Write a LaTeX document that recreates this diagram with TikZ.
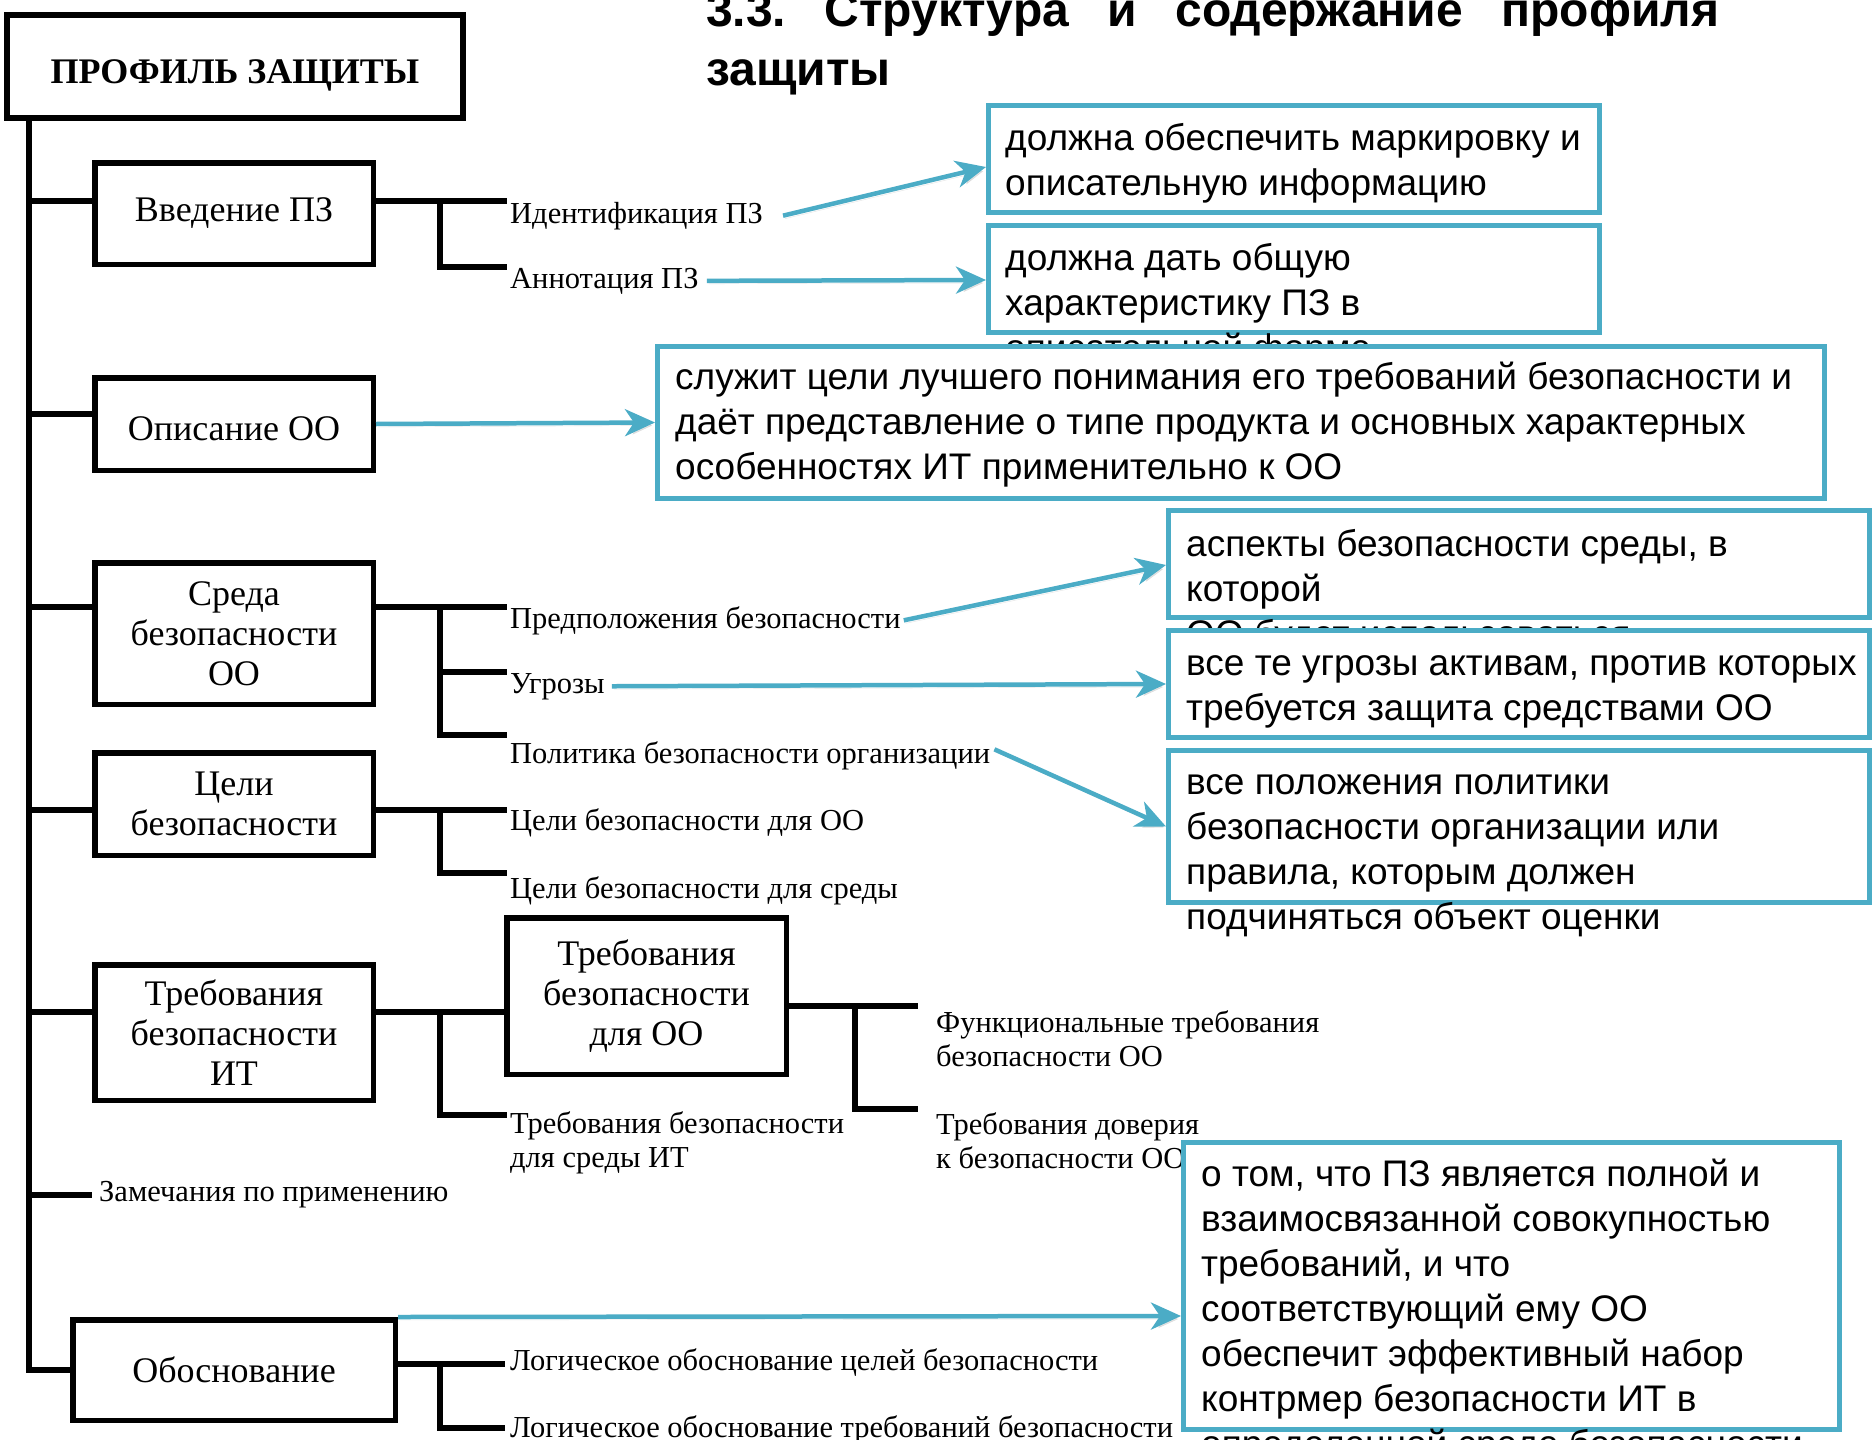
\documentclass[tikz,border=0pt]{standalone}
\usepackage{fontspec}
\setmainfont{Liberation Serif}
\newfontfamily\sansf{Liberation Sans}
\usetikzlibrary{arrows.meta}
\definecolor{tealc}{RGB}{75,172,198}
\begin{document}
\begin{tikzpicture}[x=1pt,y=-1pt,
  lbox/.style={draw=black, line width=5.5pt, inner sep=0pt, align=center,
    font=\fontsize{36}{40}\selectfont},
  conn/.style={draw=black, line width=5.5pt},
  lab/.style={inner sep=0pt, anchor=base west, align=left,
    font=\fontsize{30.5}{34}\selectfont},
  cbox/.style={draw=tealc, line width=5pt, fill=white, inner sep=0pt},
  ctext/.style={inner sep=0pt, anchor=base west, align=left,
    font=\sansf\fontsize{37}{45}\selectfont},
  arr/.style={draw=tealc, line width=4.5pt,
    -{Stealth[length=30pt,width=27pt,inset=9pt]},
    preaction={draw=black!30, opacity=0.35, transform canvas={xshift=2pt,yshift=-3pt}}},
]
\useasboundingbox (0,0) rectangle (1874,1440);
\fill[white] (0,0) rectangle (1874,1440);
\clip (0,0) rectangle (1874,1440);

% title (the base anchor of a multi-line node is its last line)
\node[inner sep=0pt, anchor=base west, font=\sansf\bfseries\fontsize{48}{58}\selectfont]
  (ttl1) at (706,27) {\hbox to 1013pt{3.3.\hfill Структура\hfill и\hfill содержание\hfill профиля}};
\node[inner sep=0pt, anchor=base west, font=\sansf\bfseries\fontsize{48}{58}\selectfont]
  (ttl2) at (706,85) {защиты};

% left structure boxes
\node[lbox, line width=6.5pt, minimum width=456pt, minimum height=103pt,
  text height=33pt, text depth=0pt, font=\bfseries\fontsize{36}{40}\selectfont]
  (title) at (235,66.5) {ПРОФИЛЬ ЗАЩИТЫ};
\node[lbox, minimum width=278.5pt, minimum height=101.5pt] (intro) at (234,213.5) {Введение ПЗ};
\node[lbox, minimum width=278.5pt, minimum height=92.5pt, text height=32pt, text depth=0pt] (desc) at (234,424) {Описание ОО};
\node[lbox, minimum width=278.5pt, minimum height=141.5pt] (env) at (234,633.5) {Среда\\безопасности\\ОО};
\node[lbox, minimum width=278.5pt, minimum height=102.5pt] (goals) at (234,804) {Цели\\безопасности};
\node[lbox, minimum width=278.5pt, minimum height=135.5pt] (reqit) at (234,1032.5) {Требования\\безопасности\\ИТ};
\node[lbox, minimum width=279.5pt, minimum height=156.5pt] (reqoo) at (646.5,996) {Требования\\безопасности\\для ОО};
\node[lbox, minimum width=322.5pt, minimum height=100.5pt] (obosn) at (234,1370) {Обоснование};

% coordinates
\coordinate (t0) at (29,0);
\coordinate (vx) at (440,0);
\coordinate (vx2) at (855,0);
\coordinate (bi) at (29,201);
\coordinate (bd) at (29,414);
\coordinate (be) at (29,607);
\coordinate (bg) at (29,810);
\coordinate (br) at (29,1012);
\coordinate (bz) at (29,1195);
\coordinate (bze) at (92,1195);
\coordinate (i1) at (507,201);
\coordinate (i2) at (507,267);
\coordinate (e1) at (507,607);
\coordinate (e2) at (507,672);
\coordinate (e3) at (507,735);
\coordinate (g1) at (507,810);
\coordinate (g2) at (507,873);
\coordinate (r1) at (440,1012);
\coordinate (r2) at (507,1115);
\coordinate (o1) at (918,1006);
\coordinate (o2) at (918,1109);
\coordinate (k1) at (505,1364);
\coordinate (k2) at (505,1428);

% trunk and branches
\draw[conn] (title.south -| t0) -- (t0 |- obosn.west) -- (obosn.west);
\draw[conn] (bi) -- (bi -| intro.west);
\draw[conn] (bd) -- (bd -| desc.west);
\draw[conn] (be) -- (be -| env.west);
\draw[conn] (bg) -- (bg -| goals.west);
\draw[conn] (br) -- (br -| reqit.west);
\draw[conn] (bz) -- (bze);

\draw[conn] (intro.east |- i1) -- (i1);
\draw[conn] (vx |- i1) |- (i2);
\draw[conn] (env.east |- e1) -- (e1);
\draw[conn] (vx |- e1) |- (e3);
\draw[conn] (vx |- e2) -- (e2);
\draw[conn] (goals.east |- g1) -- (g1);
\draw[conn] (vx |- g1) |- (g2);
\draw[conn] (reqit.east |- r1) -- (reqoo.west |- r1);
\draw[conn] (r1) |- (r2);
\draw[conn] (reqoo.east |- o1) -- (o1);
\draw[conn] (vx2 |- o1) |- (o2);
\draw[conn] (obosn.east |- k1) -- (k1);
\draw[conn] (vx |- k1) |- (k2);

% labels
\node[lab] (lid) at (510,223) {Идентификация ПЗ};
\node[lab] (lann) at (510,288) {Аннотация ПЗ};
\node[lab] (lpred) at (510,628) {Предположения безопасности};
\node[lab] (lthr) at (510,693) {Угрозы};
\node[lab] (lpol) at (510,763) {Политика безопасности организации};
\node[lab] (lg1) at (510,830) {Цели безопасности для ОО};
\node[lab] (lg2) at (510,898) {Цели безопасности для среды};
\node[lab] (lrenv) at (510,1167) {Требования безопасности\\для среды ИТ};
\node[lab] (lfun) at (936,1066) {Функциональные требования\\безопасности ОО};
\node[lab] (ltrust) at (936,1168) {Требования доверия\\к безопасности ОО};
\node[lab] (lzam) at (99,1201) {Замечания по применению};
\node[lab] (llog1) at (510,1370) {Логическое обоснование целей безопасности};
\node[lab] (llog2) at (510,1437) {Логическое обоснование требований безопасности};

% callout boxes (text nodes anchored at the baseline of their last line)
\node[cbox, minimum width=611pt, minimum height=107pt] (b1) at (1294,159) {};
\node[ctext] (b1t) at (1005,195.5) {должна обеспечить маркировку и\\описательную информацию};
\node[cbox, minimum width=611pt, minimum height=107pt] (b2) at (1294,279) {};
\node[ctext] (b2t) at (1005,360) {должна дать общую\\характеристику ПЗ в\\описательной форме};
\node[cbox, minimum width=1167pt, minimum height=152pt] (b3) at (1241,422.5) {};
\node[ctext] (b3t) at (675,479) {служит цели лучшего понимания его требований безопасности и\\даёт представление о типе продукта и основных характерных\\особенностях ИТ применительно к ОО};
\node[cbox, minimum width=701pt, minimum height=107pt] (b4) at (1519,564) {};
\node[ctext] (b4t) at (1186,646) {аспекты безопасности среды, в\\которой\\ОО будет использоваться};
\node[cbox, minimum width=701pt, minimum height=107pt] (b5) at (1519,684) {};
\node[ctext] (b5t) at (1186,720.5) {все те угрозы активам, против которых\\требуется защита средствами ОО};
\node[cbox, minimum width=701pt, minimum height=152pt] (b6) at (1519,826.5) {};
\node[ctext] (b6t) at (1186,929.5) {все положения политики\\безопасности организации или\\правила, которым должен\\подчиняться объект оценки};
\node[cbox, minimum width=656pt, minimum height=287pt] (b7) at (1511.5,1286) {};
\node[ctext] (b7t) at (1201,1456) {о том, что ПЗ является полной и\\взаимосвязанной совокупностью\\требований, и что\\соответствующий ему ОО\\обеспечит эффективный набор\\контрмер безопасности ИТ в\\определенной среде безопасности};

% arrows
\draw[arr] ([xshift=20pt]lid.east) -- ([yshift=-8pt]b1.west);
\draw[arr] ([xshift=8pt]lann.east) -- ([yshift=-1pt]b2.west);
\draw[arr] (desc.east) -- (b3.west);
\draw[arr] ([xshift=3pt]lpred.east) -- ([yshift=-1pt]b4.west);
\draw[arr] ([xshift=7pt]lthr.east) -- (b5.west);
\draw[arr] ([xshift=4pt,yshift=6pt]lpol.east) -- (b6.west);
\draw[arr] (obosn.north east) -- ([yshift=-30pt]b7.west);
\end{tikzpicture}
\end{document}
